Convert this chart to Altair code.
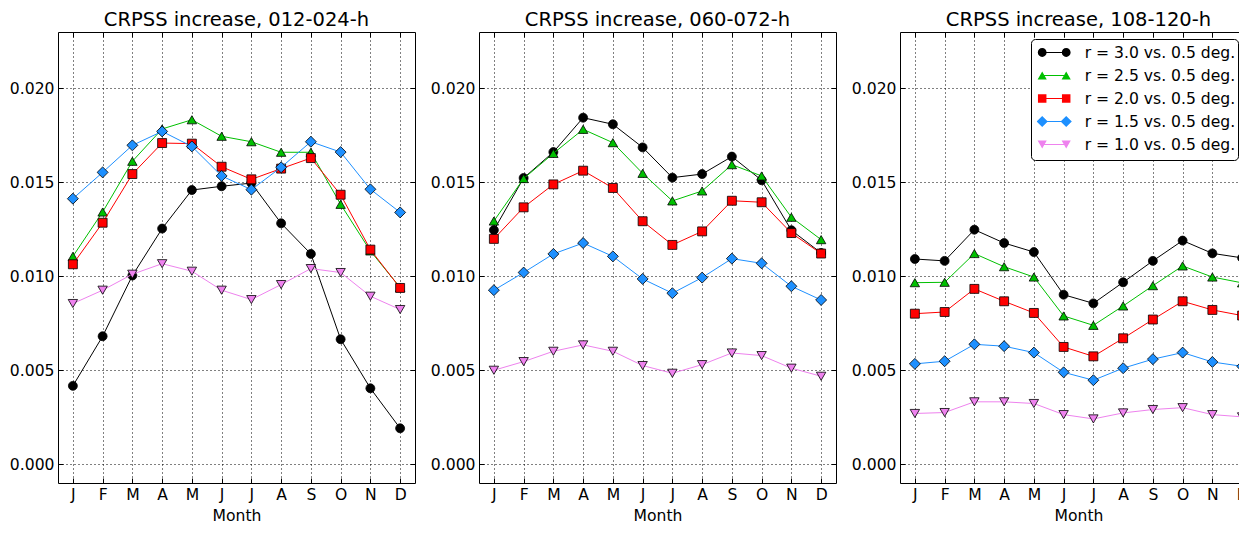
import altair as alt
import pandas as pd

# ---------------- data ----------------
months = ["J", "F", "M", "A", "M", "J", "J", "A", "S", "O", "N", "D"]
month_num = list(range(1, 13))

series_names = ["r = 3.0 vs. 0.5 deg.", "r = 2.5 vs. 0.5 deg.", "r = 2.0 vs. 0.5 deg.",
                "r = 1.5 vs. 0.5 deg.", "r = 1.0 vs. 0.5 deg."]
panel_titles = ["CRPSS increase, 012-024-h", "CRPSS increase, 060-072-h", "CRPSS increase, 108-120-h"]
y_ticks = [0.0, 0.005, 0.010, 0.015, 0.020]

h012_r30 = [0.00417, 0.00681, 0.01004, 0.01254, 0.01459, 0.01479, 0.01496, 0.01282, 0.01119, 0.00665, 0.00404, 0.00191]
h012_r25 = [0.01106, 0.01342, 0.01612, 0.01784, 0.01833, 0.01745, 0.01716, 0.01660, 0.01660, 0.01383, 0.01135, 0.00940]
h012_r20 = [0.01064, 0.01285, 0.01544, 0.01709, 0.01706, 0.01583, 0.01516, 0.01573, 0.01629, 0.01434, 0.01142, 0.00938]
h012_r15 = [0.01413, 0.01553, 0.01697, 0.01771, 0.01691, 0.01534, 0.01461, 0.01580, 0.01716, 0.01661, 0.01463, 0.01340]
h012_r10 = [0.00855, 0.00926, 0.01011, 0.01067, 0.01027, 0.00926, 0.00876, 0.00956, 0.01041, 0.01020, 0.00894, 0.00823]

h060_r30 = [0.01246, 0.01523, 0.01661, 0.01844, 0.01809, 0.01686, 0.01525, 0.01544, 0.01637, 0.01511, 0.01245, 0.01124]
h060_r25 = [0.01294, 0.01520, 0.01654, 0.01782, 0.01711, 0.01548, 0.01401, 0.01454, 0.01594, 0.01534, 0.01314, 0.01195]
h060_r20 = [0.01199, 0.01367, 0.01489, 0.01562, 0.01470, 0.01293, 0.01167, 0.01239, 0.01402, 0.01394, 0.01230, 0.01121]
h060_r15 = [0.00926, 0.01020, 0.01119, 0.01177, 0.01106, 0.00986, 0.00910, 0.00993, 0.01094, 0.01069, 0.00947, 0.00874]
h060_r10 = [0.00500, 0.00546, 0.00601, 0.00635, 0.00601, 0.00525, 0.00484, 0.00530, 0.00592, 0.00578, 0.00511, 0.00468]

h108_r30 = [0.01092, 0.01082, 0.01248, 0.01177, 0.01129, 0.00902, 0.00856, 0.00968, 0.01082, 0.01190, 0.01122, 0.01098]
h108_r25 = [0.00966, 0.00968, 0.01121, 0.01051, 0.00996, 0.00789, 0.00739, 0.00842, 0.00950, 0.01055, 0.00996, 0.00965]
h108_r20 = [0.00801, 0.00810, 0.00933, 0.00867, 0.00805, 0.00624, 0.00574, 0.00670, 0.00770, 0.00867, 0.00821, 0.00791]
h108_r15 = [0.00534, 0.00548, 0.00638, 0.00628, 0.00594, 0.00489, 0.00447, 0.00511, 0.00559, 0.00594, 0.00544, 0.00521]
h108_r10 = [0.00270, 0.00275, 0.00332, 0.00332, 0.00323, 0.00264, 0.00241, 0.00273, 0.00291, 0.00301, 0.00264, 0.00252]

panel_values = [
    [h012_r30, h012_r25, h012_r20, h012_r15, h012_r10],
    [h060_r30, h060_r25, h060_r20, h060_r15, h060_r10],
    [h108_r30, h108_r25, h108_r20, h108_r15, h108_r10],
]

# ---------------- styles ----------------
series_colors = ["#000000", "#00c000", "#ff0000", "#1e90ff", "#ee82ee"]
series_shapes = ["circle", "triangle-up", "square", "diamond", "triangle-down"]
series_msize = [80, 88, 80, 120, 88]

FONT = "DejaVu Sans"
LABEL_FS = 15.6
TITLE_FS = 19.5
PW, PH = 357, 451


def two_markers(kind, cx=0.706):
    """legend symbol: two copies of a marker (custom SVG path, unit box)"""
    out = []
    for c in (-cx, cx):
        if kind == "circle":
            r = 0.26
            out.append(f"M{c - r:.3f},0A{r},{r} 0 1,1 {c + r:.3f},0A{r},{r} 0 1,1 {c - r:.3f},0Z")
        elif kind == "square":
            a = 0.25
            out.append(f"M{c - a:.3f},{-a}L{c + a:.3f},{-a}L{c + a:.3f},{a}L{c - a:.3f},{a}Z")
        elif kind == "diamond":
            a = 0.33
            out.append(f"M{c - a:.3f},0L{c:.3f},{-a}L{c + a:.3f},0L{c:.3f},{a}Z")
        elif kind == "triangle-up":
            w, h = 0.27, 0.234
            out.append(f"M{c:.3f},{-h}L{c - w:.3f},{h}L{c + w:.3f},{h}Z")
        else:
            w, h = 0.27, 0.234
            out.append(f"M{c:.3f},{h}L{c - w:.3f},{-h}L{c + w:.3f},{-h}Z")
    return "".join(out)


legend_paths = [two_markers(k) for k in series_shapes]

rows = []
for p, title in enumerate(panel_titles):
    for s, name in enumerate(series_names):
        for m, v in zip(month_num, panel_values[p][s]):
            rows.append({"panel": title, "series": name, "month": m, "value": v})
df = pd.DataFrame(rows)

leg_df = pd.DataFrame({"series": series_names,
                       "series_line": [n + " " for n in series_names]})

label_expr = "[" + ",".join(f"'{m}'" for m in months) + "][datum.value - 1]"

x_scale = alt.Scale(domain=[0.5, 12.5], nice=False, zero=False)
y_scale = alt.Scale(domain=[-0.001, 0.023], nice=False, zero=False)

grid_kw = dict(grid=True, gridDash=[1, 3], gridColor="black", gridOpacity=1, gridWidth=1)
tick_kw = dict(ticks=True, tickSize=5, offset=-5, tickColor="black", tickWidth=1, domain=False)
font_kw = dict(labelFont=FONT, labelFontSize=LABEL_FS, labelColor="black",
               titleFont=FONT, titleFontSize=LABEL_FS, titleFontWeight="normal", titleColor="black")

x_bottom = alt.Axis(orient="bottom", values=month_num, labelExpr=label_expr, title="Month",
                    labelPadding=4, titlePadding=6, labelAngle=0, **grid_kw, **tick_kw, **font_kw)
y_left = alt.Axis(orient="left", values=y_ticks, format=".3f", title=None, labelPadding=4,
                  minExtent=50, maxExtent=50, **grid_kw, **tick_kw, **font_kw)
x_top = alt.Axis(orient="top", values=month_num, labels=False, title=None, grid=False,
                 minExtent=0, maxExtent=0, **tick_kw)
y_right = alt.Axis(orient="right", values=y_ticks, labels=False, title=None, grid=False,
                   minExtent=0, maxExtent=0, **tick_kw)

# legend position relative to the first panel's plot origin
LEG_X = 973
LEG_Y = 7


def panel(p, title, with_legend):
    base = alt.Chart(df).transform_filter(alt.datum.panel == title)
    layers = []
    n = len(series_names)
    for s, name in enumerate(series_names):
        sub = base.transform_filter(alt.datum.series == name)
        first = s == 0
        last = s == n - 1
        line = sub.mark_line(color=series_colors[s], strokeWidth=1).encode(
            x=alt.X("month:Q", scale=x_scale, axis=x_bottom if first else None),
            y=alt.Y("value:Q", scale=y_scale, axis=y_left if first else None),
        )
        pts = sub.mark_point(shape=series_shapes[s], filled=True, fill=series_colors[s],
                             stroke="black", strokeWidth=0.8, size=series_msize[s], opacity=1).encode(
            x=alt.X("month:Q", scale=x_scale, axis=x_top if last else None),
            y=alt.Y("value:Q", scale=y_scale, axis=y_right if last else None),
        )
        layers += [line, pts]

    if with_legend:
        leg_common = dict(orient="none", legendY=LEG_Y, title=None, labelFontSize=LABEL_FS,
                          labelFont=FONT, labelColor="black", labelOffset=13, padding=6,
                          clipHeight=15, rowPadding=6, labelLimit=0)
        dummy_line = alt.Chart(leg_df).mark_point(shape="stroke", filled=False, size=576,
                                                  strokeWidth=1.2, opacity=0).encode(
            stroke=alt.Stroke("series_line:N",
                              scale=alt.Scale(domain=[n_ + " " for n_ in series_names], range=series_colors),
                              legend=alt.Legend(legendX=LEG_X, symbolType="stroke", symbolSize=576,
                                                symbolStrokeWidth=1.2, symbolOpacity=1, labelOpacity=0,
                                                strokeColor="black", fillColor="white", cornerRadius=4,
                                                zindex=0, symbolOffset=4.7, **leg_common)),
        )
        legB = alt.Legend(legendX=LEG_X - 0.3, symbolSize=1156, symbolStrokeColor="black",
                          symbolStrokeWidth=0.8, symbolOpacity=1, zindex=1, **leg_common)
        dummy_pts = alt.Chart(leg_df).mark_point(filled=True, size=1156, stroke="black",
                                                 strokeWidth=0.8, opacity=0).encode(
            fill=alt.Fill("series:N", scale=alt.Scale(domain=series_names, range=series_colors), legend=legB),
            shape=alt.Shape("series:N", scale=alt.Scale(domain=series_names, range=legend_paths), legend=legB),
        )
        layers = [dummy_line, dummy_pts] + layers

    return alt.layer(*layers).resolve_axis(x="independent", y="independent").properties(
        width=PW, height=PH,
        title=alt.TitleParams(title, fontSize=TITLE_FS, font=FONT, fontWeight="normal",
                              color="black", anchor="middle", offset=1),
    )


# The reference figure is cropped on its right side: draw at full size and clip
# to the window with a fixed-size canvas (autosize none).
chart = alt.hconcat(*[panel(p, t, p == 2) for p, t in enumerate(panel_titles)], spacing=13).properties(
    autosize=alt.AutoSizeParams(type="none"),
    padding={"left": 50, "top": 24, "right": 1181, "bottom": 500},
    background="white",
).configure_view(stroke="black", strokeWidth=1)

chart.save("out.html", embed_options={"renderer": "svg", "actions": False})
